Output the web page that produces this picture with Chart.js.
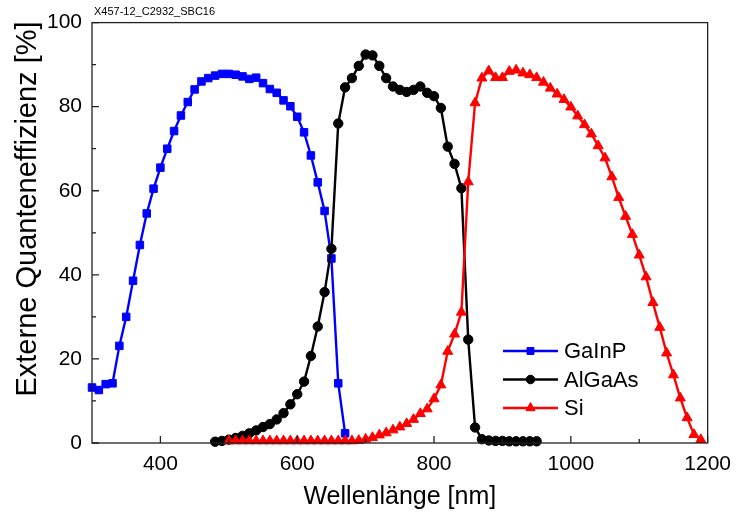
<!DOCTYPE html>
<html><head><meta charset="utf-8">
<script src="https://cdn.jsdelivr.net/npm/chart.js@4.4.0/dist/chart.umd.min.js"></script>
<style>html,body{margin:0;padding:0;background:#fff}#wrap{width:740px;height:512px}</style>
</head><body><div id="wrap"><canvas id="c" width="740" height="512"></canvas></div>
<script>
const sampleName = 'X457-12_C2932_SBC16';
const seriesNames = ['GaInP', 'AlGaAs', 'Si'];
const xTitle = 'Wellenlänge [nm]';
const yTitle = 'Externe Quanteneffizienz [%]';

const gainpNm = [300,310,320,330,340,350,360,370,380,390,400,410,420,430,440,450,460,470,480,490,500,510,520,530,540,550,560,570,580,590,600,610,620,630,640,650,660,670];
const gainpEqe = [13.2,12.6,14.0,14.2,23.1,30.0,38.6,47.1,54.6,60.5,65.5,70.0,74.2,77.9,81.1,84.1,86.0,86.8,87.4,87.8,87.8,87.6,87.2,86.6,86.9,85.6,84.2,83.3,81.5,80.1,77.6,73.9,68.4,62.0,55.2,43.9,14.2,2.3];

const algaasNm = [480,490,500,510,520,530,540,550,560,570,580,590,600,610,620,630,640,650,660,670,680,690,700,710,720,730,740,750,760,770,780,790,800,810,820,830,840,850,860,870,880,890,900,910,920,930,940,950];
const algaasEqe = [0.3,0.5,0.8,1.2,1.7,2.3,3.0,3.8,4.5,5.6,7.1,9.2,11.6,14.6,20.7,27.7,35.9,46.2,76.0,84.6,86.8,89.7,92.4,92.2,89.7,86.8,84.8,84.0,83.5,84.0,84.8,83.3,82.5,79.7,70.5,66.4,60.6,24.6,3.7,0.9,0.6,0.5,0.5,0.4,0.4,0.4,0.4,0.4];

const siNm = [500,510,520,530,540,550,560,570,580,590,600,610,620,630,640,650,660,670,680,690,700,710,720,730,740,750,760,770,780,790,800,810,820,830,840,850,860,870,880,890,900,910,920,930,940,950,960,970,980,990,1000,1010,1020,1030,1040,1050,1060,1070,1080,1090,1100,1110,1120,1130,1140,1150,1160,1170,1180,1190];
const siEqe = [0.5,0.5,0.5,0.5,0.5,0.5,0.5,0.5,0.5,0.5,0.5,0.5,0.5,0.5,0.5,0.5,0.5,0.5,0.5,0.6,0.9,1.3,1.9,2.4,3.1,3.8,4.6,5.6,7.0,8.1,10.5,13.8,21.8,25.9,31.1,62.1,80.9,86.8,88.5,86.9,86.9,88.4,88.7,88.0,87.6,86.9,85.8,84.4,83.0,81.7,79.9,77.8,75.7,73.5,70.7,67.8,63.3,58.4,53.9,49.6,44.7,39.5,33.4,27.5,21.4,16.2,10.7,6.0,2.0,0.8];

const xMajorTicks = [400,600,800,1000,1200];
const xMinorTicks = [500,700,900,1100];
const yMajorTicks = [0,20,40,60,80,100];
const yMinorTicks = [10,30,50,70,90];

const FONT = "'Liberation Sans', Arial, sans-serif";
const colors = ['#0000ff', '#000000', '#ff0000'];
const styles = ['rect', 'circle', 'triangle'];
const radii = [5.3, 4.7, 5.8];

function pts(xs, ys) { return xs.map((x, i) => ({x: x, y: ys[i]})); }

const seriesData = [pts(gainpNm, gainpEqe), pts(algaasNm, algaasEqe), pts(siNm, siEqe)];

const datasets = seriesNames.map((name, i) => ({
  label: name,
  data: seriesData[i],
  borderColor: colors[i],
  backgroundColor: colors[i],
  pointBackgroundColor: colors[i],
  pointBorderColor: colors[i],
  pointStyle: styles[i],
  pointRadius: radii[i],
  pointBorderWidth: 1,
  borderWidth: 2.4,
  tension: 0,
  clip: false,
  order: 3 - i
}));

const framePlugin = {
  id: 'framePlugin',
  afterDatasetsDraw(chart) {
    const ctx = chart.ctx;
    const a = chart.chartArea;
    const xs = chart.scales.x, ys = chart.scales.y;
    ctx.save();
    ctx.strokeStyle = '#222';
    ctx.lineWidth = 1.3;
    ctx.strokeRect(a.left, a.top, a.right - a.left, a.bottom - a.top);
    ctx.beginPath();
    xMajorTicks.forEach(v => { const p = xs.getPixelForValue(v); ctx.moveTo(p, a.bottom); ctx.lineTo(p, a.bottom - 7); });
    xMinorTicks.forEach(v => { const p = xs.getPixelForValue(v); ctx.moveTo(p, a.bottom); ctx.lineTo(p, a.bottom - 4); });
    yMajorTicks.forEach(v => { const p = ys.getPixelForValue(v); ctx.moveTo(a.left, p); ctx.lineTo(a.left + 7, p); });
    yMinorTicks.forEach(v => { const p = ys.getPixelForValue(v); ctx.moveTo(a.left, p); ctx.lineTo(a.left + 4, p); });
    ctx.stroke();
    ctx.restore();
  },
  afterDraw(chart) {
    const ctx = chart.ctx;
    const a = chart.chartArea;
    ctx.save();
    // sample name
    ctx.fillStyle = '#000';
    ctx.font = '11px ' + FONT;
    ctx.textBaseline = 'middle';
    ctx.textAlign = 'left';
    ctx.fillText(sampleName, a.left + 2, 12);
    // y axis title
    ctx.save();
    ctx.translate(28, 209);
    ctx.rotate(-Math.PI / 2);
    ctx.font = '29px ' + FONT;
    ctx.textAlign = 'center';
    ctx.textBaseline = 'middle';
    ctx.fillText(yTitle, 0, 0);
    ctx.restore();
    // legend
    const lx0 = 503, lx1 = 558, ly0 = 351, dy = 28.5;
    ctx.font = '22px ' + FONT;
    ctx.textAlign = 'left';
    ctx.textBaseline = 'middle';
    seriesNames.forEach((name, i) => {
      const y = ly0 + i * dy;
      ctx.strokeStyle = colors[i];
      ctx.lineWidth = 2.4;
      ctx.beginPath(); ctx.moveTo(lx0, y); ctx.lineTo(lx1, y); ctx.stroke();
      ctx.fillStyle = colors[i];
      ctx.lineWidth = 1;
      Chart.helpers.drawPoint(ctx, {pointStyle: styles[i], radius: radii[i] - 0.4, rotation: 0, borderWidth: 1}, (lx0 + lx1) / 2, y);
      ctx.fillStyle = '#000';
      ctx.fillText(name, lx1 + 6, y + 1);
    });
    ctx.restore();
  }
};

new Chart(document.getElementById('c'), {
  type: 'line',
  data: { datasets: datasets },
  options: {
    responsive: false,
    animation: false,
    devicePixelRatio: 1,
    layout: { padding: { top: 18, right: 27, left: 0, bottom: 0 } },
    plugins: { legend: { display: false }, tooltip: { enabled: false }, title: { display: false } },
    scales: {
      x: {
        type: 'linear', min: 300, max: 1200,
        afterBuildTicks: s => { s.ticks = xMajorTicks.map(v => ({value: v})); },
        afterFit: s => { s.height = 69; },
        grid: { display: false, drawTicks: false },
        border: { display: false },
        ticks: { color: '#000', font: { family: FONT, size: 21 }, padding: 9, maxRotation: 0, autoSkip: false, callback: v => String(v) },
        title: { display: true, text: xTitle, color: '#000', font: { family: FONT, size: 25 }, padding: { top: 0, bottom: 0 } }
      },
      y: {
        type: 'linear', min: 0, max: 100,
        afterBuildTicks: s => { s.ticks = yMajorTicks.map(v => ({value: v})); },
        afterFit: s => { s.width = 92; },
        grid: { display: false, drawTicks: false },
        border: { display: false },
        ticks: { color: '#000', font: { family: FONT, size: 21 }, padding: 10, autoSkip: false, callback: v => String(v) },
        title: { display: false }
      }
    }
  },
  plugins: [framePlugin]
});
</script>
</body></html>
